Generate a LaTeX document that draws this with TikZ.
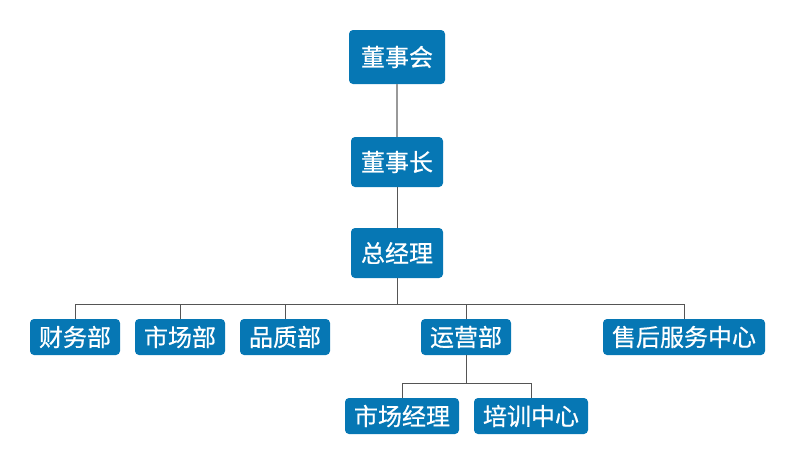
\documentclass[tikz,border=0pt]{standalone}
\usepackage{fontspec}
\newfontfamily\cjk[FakeBold=0.6]{Noto Sans CJK SC}
\definecolor{boxblue}{HTML}{0677B4}
\definecolor{linegray}{HTML}{555555}
\begin{document}
\begin{tikzpicture}[x=1pt,y=-1pt,
  box/.style={fill=boxblue, rounded corners=4pt, text=white, font=\cjk\fontsize{24}{26}\selectfont, inner sep=0pt, minimum height=36pt},
  conn/.style={draw=linegray, line width=1pt}]
\useasboundingbox (0,0) rectangle (795,467);
\node[box, minimum width=96pt, minimum height=54pt] (dsh) at (397,57) {董事会};
\node[box, minimum width=92pt, minimum height=50pt] (dsz) at (397,162) {董事长};
\node[box, minimum width=92pt, minimum height=50pt] (zjl) at (397,253) {总经理};
\node[box, minimum width=90pt] (cw) at (75,337) {财务部};
\node[box, minimum width=90pt] (sc) at (180,337) {市场部};
\node[box, minimum width=90pt] (pz) at (285,337) {品质部};
\node[box, minimum width=90pt] (yy) at (466,337) {运营部};
\node[box, minimum width=162pt] (sh) at (684,337) {售后服务中心};
\node[box, minimum width=114pt] (scjl) at (402,416) {市场经理};
\node[box, minimum width=114pt] (px) at (531,416) {培训中心};
\coordinate (bus) at (397,304);
\coordinate (bus2) at (466,383);
\draw[draw=gray!80, line width=1.4pt] (dsh.south) -- (dsz.north);
\draw[conn] (dsz.south) -- (zjl.north);
\draw[conn] (zjl.south) -- (bus);
\draw[conn] (bus) -| (cw.north);
\draw[conn] (bus) -| (sc.north);
\draw[conn] (bus) -| (pz.north);
\draw[conn] (bus) -| (yy.north);
\draw[conn] (bus) -| (sh.north);
\draw[conn] (yy.south) -- (bus2);
\draw[conn] (bus2) -| (scjl.north);
\draw[conn] (bus2) -| (px.north);
\end{tikzpicture}
\end{document}
